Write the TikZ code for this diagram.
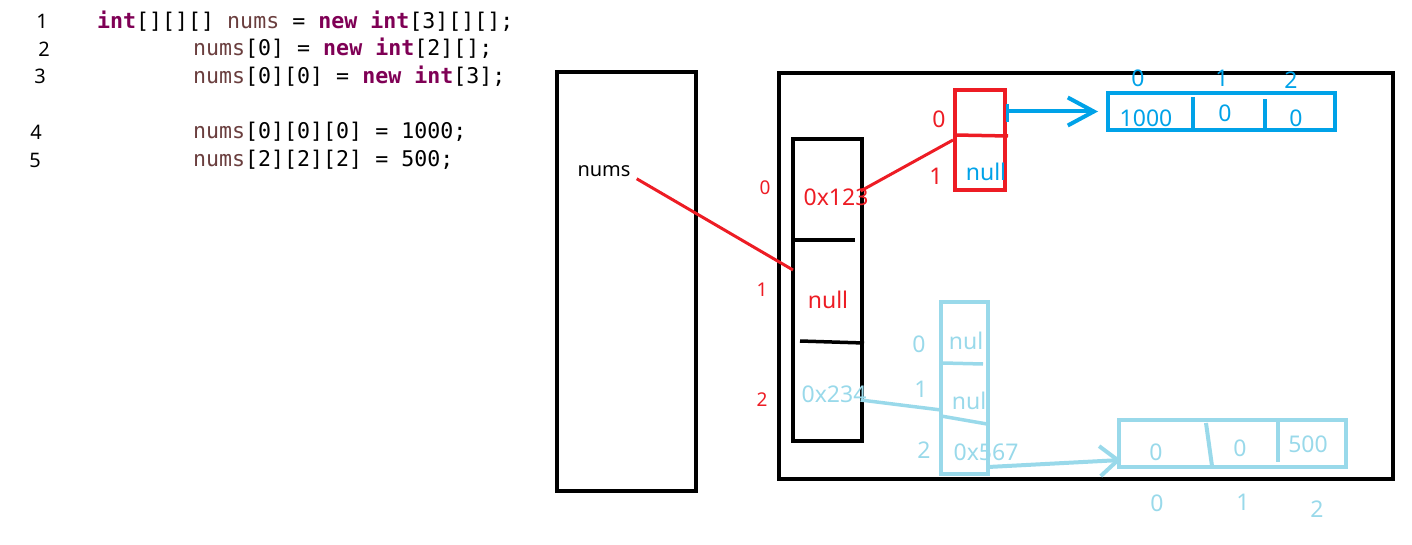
\documentclass[tikz,border=0pt]{standalone}
\usepackage{fontspec}
\setmainfont{Noto Sans}
\setmonofont{DejaVu Sans Mono}
\usetikzlibrary{calc, arrows.meta}
\definecolor{kwColor}{HTML}{7F0055}
\definecolor{varColor}{HTML}{6A3E3E}
\definecolor{refRed}{HTML}{ED1C24}
\definecolor{refBlue}{HTML}{00A2E8}
\definecolor{refLight}{HTML}{99D9EA}
\newcommand{\codekw}[1]{\textcolor{kwColor}{\textbf{#1}}}
\newcommand{\codevar}[1]{\textcolor{varColor}{#1}}

\begin{document}
\begin{tikzpicture}[x=1pt, y=-1pt,
    box/.style={draw, line width=4pt, inner sep=0pt},
    code/.style={anchor=base west, inner sep=0pt, font=\ttfamily\fontsize{21.6}{21.6}\selectfont},
    lnum/.style={anchor=base, inner sep=0pt, font=\bfseries\fontsize{20}{20}\selectfont},
    lbl/.style={inner sep=0pt, font=\fontsize{23}{23}\selectfont},
    small/.style={inner sep=0pt, font=\fontsize{19}{19}\selectfont}]
    \useasboundingbox (0,0) rectangle (1412,545);
    % code
    \node[lnum] (l1) at (42,29) {1};
    \node[lnum] (l2) at (44,57) {2};
    \node[lnum] (l3) at (40,84) {3};
    \node[lnum] (l4) at (36,140) {4};
    \node[lnum] (l5) at (35,168) {5};
    \node[code] (c1) at (97,29) {\codekw{int}[][][] \codevar{nums} = \codekw{new} \codekw{int}[3][][];};
    \node[code] (c2) at (193,56) {\codevar{nums}[0] = \codekw{new} \codekw{int}[2][];};
    \node[code] (c3) at (193,84) {\codevar{nums}[0][0] = \codekw{new} \codekw{int}[3];};
    \node[code] (c4) at (193,139) {\codevar{nums}[0][0][0] = 1000;};
    \node[code] (c5) at (193,167) {\codevar{nums}[2][2][2] = 500;};
    % stack and heap
    \node[box, minimum width=139pt, minimum height=419pt] (stack) at (626.5,281.5) {};
    \node[box, minimum width=614pt, minimum height=406pt] (heap) at (1086,276) {};
    \node[inner sep=0pt, font=\fontsize{20}{20}\selectfont] (nums) at (604,171) {nums};
    % nums[]
    \node[box, minimum width=69pt, minimum height=302pt] (outer) at (827.5,290) {};
    \draw[line width=3.5pt] (795,240) -- (855,240);
    \draw[line width=3.5pt] (800,341) -- (864,343);
    \node[small, refRed] (i0) at (765,188) {0};
    \node[small, refRed] (i1) at (762,290) {1};
    \node[small, refRed] (i2) at (762,400) {2};
    \node[lbl, refRed] (p0) at (836,197) {0x123};
    \node[lbl, refRed] (p1) at (828,300) {null};
    \node[lbl, refLight] (p2) at (834,394) {0x234};
    \coordinate (o1) at (793,270);
    \draw[refRed, line width=3pt] (nums.south east) ++(6,2) -- (o1);
    % nums[0]
    \node[box, draw=refRed, minimum width=50pt, minimum height=100pt] (rbox) at (980,140) {};
    \draw[refRed, line width=3.5pt] (955,135) -- (1008,136);
    \node[lbl, refRed] (r0) at (939,119) {0};
    \node[lbl, refRed] (r1) at (936,176) {1};
    \node[lbl, refBlue] (rn) at (986,172) {null};
    \draw[refRed, line width=3pt] (p0.east) ++(-8,-6) -- (rbox.west);
    % nums[0][0]
    \node[box, draw=refBlue, minimum width=227pt, minimum height=37pt] (barr) at (1221.5,111.5) {};
    \draw[refBlue, line width=4pt] (1193,97) -- (1193,128);
    \draw[refBlue, line width=4pt] (1265,99) -- (1265,128);
    \node[lbl, refBlue] (b0) at (1146,118) {1000};
    \node[lbl, refBlue] (b1) at (1225,113) {0};
    \node[lbl, refBlue] (b2) at (1296,118) {0};
    \node[lbl, refBlue] (bi0) at (1138,78) {0};
    \node[lbl, refBlue] (bi1) at (1222,78) {1};
    \node[lbl, refBlue] (bi2) at (1291,80) {2};
    \draw[refBlue, line width=3pt] (1007,104) -- (1007,122);
    \draw[refBlue, line width=4pt, shorten >=8pt, -{Straight Barb[length=26pt, width=28pt]}]
        (rbox.east |- barr.west) -- (barr.west);
    % nums[2]
    \node[box, draw=refLight, minimum width=47pt, minimum height=172pt] (lbox) at (964.5,388) {};
    \draw[refLight, line width=3.5pt] (943,363) -- (983,364);
    \draw[refLight, line width=3.5pt] (941,416) -- (987,424);
    \node[lbl, refLight] (q0) at (919,344) {0};
    \node[lbl, refLight] (q1) at (921,389) {1};
    \node[lbl, refLight] (q2) at (924,450) {2};
    \node[lbl, refLight] (qn0) at (966,341) {nul};
    \node[lbl, refLight] (qn1) at (972,401) {null};
    \node[lbl, refLight] (qp) at (986,452) {0x567};
    \coordinate (l2in) at (941,410);
    \draw[refLight, line width=3.5pt] (p2.east) ++(-6,6) -- (l2in);
    % nums[2][2]
    \node[box, draw=refLight, minimum width=227pt, minimum height=47pt] (larr) at (1232.5,443.5) {};
    \draw[refLight, line width=4pt] (1206,423) -- (1212,466);
    \draw[refLight, line width=4pt] (1278,422) -- (1278,462);
    \node[lbl, refLight] (d0) at (1156,452) {0};
    \node[lbl, refLight] (d1) at (1240,448) {0};
    \node[lbl, refLight] (d2) at (1308,444) {500};
    \node[lbl, refLight] (di0) at (1157,503) {0};
    \node[lbl, refLight] (di1) at (1243,502) {1};
    \node[lbl, refLight] (di2) at (1317,509) {2};
    \coordinate (l2out) at (988,467);
    \coordinate (l2tip) at (1121,460);
    \draw[refLight, line width=4pt, -{Straight Barb[length=18pt, width=30pt]}] (l2out) -- (l2tip);
\end{tikzpicture}
\end{document}
